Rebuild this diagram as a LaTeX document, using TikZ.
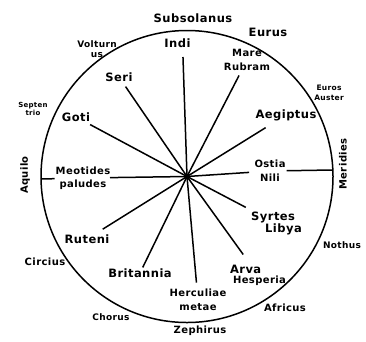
\documentclass[tikz,border=0pt]{standalone}
\usepackage{fontspec}
\setmainfont{DejaVu Sans}[LetterSpace=4]
\newcommand{\placefont}{\bfseries\fontsize{11.5}{13}\selectfont}
\newcommand{\regionfont}{\bfseries\fontsize{10}{14}\selectfont}
\tikzset{
  spoke/.style={line width=1.5pt},
  place/.style={font=\placefont, inner sep=1pt},
  region/.style={font=\regionfont, align=center, inner sep=1pt},
  wind/.style={font=\bfseries\fontsize{9}{10}\selectfont, align=center, inner sep=1pt},
  minor/.style={font=\bfseries\fontsize{7}{8}\selectfont, align=center, inner sep=1pt},
}

\begin{document}
\begin{tikzpicture}[x=1pt, y=-1pt]
  \useasboundingbox (0,0) rectangle (366,341);
  \coordinate (c) at (187,176.5);
  \coordinate (aqpt) at (41,179);
  \coordinate (merpt) at (332,170);
  \draw[line width=1.5pt] (c) circle[radius=146pt];
  \fill (c) circle[radius=2.6pt];

  % places on the spokes
  \node[place] (indi) at (177.5,43) {Indi};
  \node[place] (seri) at (119,77) {Seri};
  \node[place] (goti) at (76,117) {Goti};
  \node[region] (mare) at (247,60) {Mare\\Rubram};
  \node[place] (aeg) at (286,115) {Aegiptus};
  \node[region] (ostia) at (270,171) {Ostia\\Nili};
  \node[place, align=left] (syrtes) at (276.5,223.5) {Syrtes\\[-1pt]\hspace{14pt}Libya};
  \node[place, align=left] (arva) at (258,275) {Arva\\[-3pt]\hspace{3pt}{\regionfont Hesperia}};
  \node[region] (herc) at (198,300) {Herculiae\\metae};
  \node[place] (brit) at (140,273) {Britannia};
  \node[place] (ruteni) at (87,239) {Ruteni};
  \node[region] (meo) at (83,178) {Meotides\\[-1pt]paludes};

  \draw[spoke, shorten >=14pt] (c) -- ([xshift=5pt]indi.center);
  \draw[spoke, shorten >=11.6pt] (c) -- (seri.center);
  \draw[spoke, shorten >=16pt] (c) -- (goti.center);
  \draw[spoke, shorten >=17.4pt] (c) -- (mare.center);
  \draw[spoke, shorten >=24pt] (c) -- (aeg.center);
  \draw[spoke, shorten >=21pt] (c) -- (ostia.center);
  \draw[spoke] (ostia) -- (merpt);
  \draw[spoke, shorten >=34.7pt] (c) -- (syrtes.center);
  \draw[spoke, shorten >=25.3pt] (c) -- (arva.center);
  \draw[spoke, shorten >=17.4pt] (c) -- (herc.center);
  \draw[spoke, shorten >=6.2pt] (c) -- (brit.center);
  \draw[spoke, shorten >=18.5pt] (c) -- (ruteni.center);
  \draw[spoke, shorten >=27pt] (c) -- (meo.center);
  \draw[spoke] (meo) -- (aqpt);

  % winds round the rim
  \node[place] (subsol) at (193,18) {Subsolanus};
  \node[place] (eurus) at (268,32) {Eurus};
  \node[minor, font=\bfseries\fontsize{7.5}{10}\selectfont] (euros) at (329,93) {Euros\\Auster};
  \node[region, rotate=90] (meridies) at (343,164) {Meridies};
  \node[wind] (nothus) at (342,245) {Nothus};
  \node[region] (africus) at (285,308) {Africus};
  \node[region] (zeph) at (200,331) {Zephirus};
  \node[wind] (chorus) at (111,317) {Chorus};
  \node[region] (circius) at (45,262) {Circius};
  \node[region, rotate=90] (aquilo) at (25,175) {Aquilo};
  \node[minor] (septen) at (33,109) {Septen\\trio};
  \node[wind] (voltur) at (97,49) {Volturn\\us};
\end{tikzpicture}
\end{document}
